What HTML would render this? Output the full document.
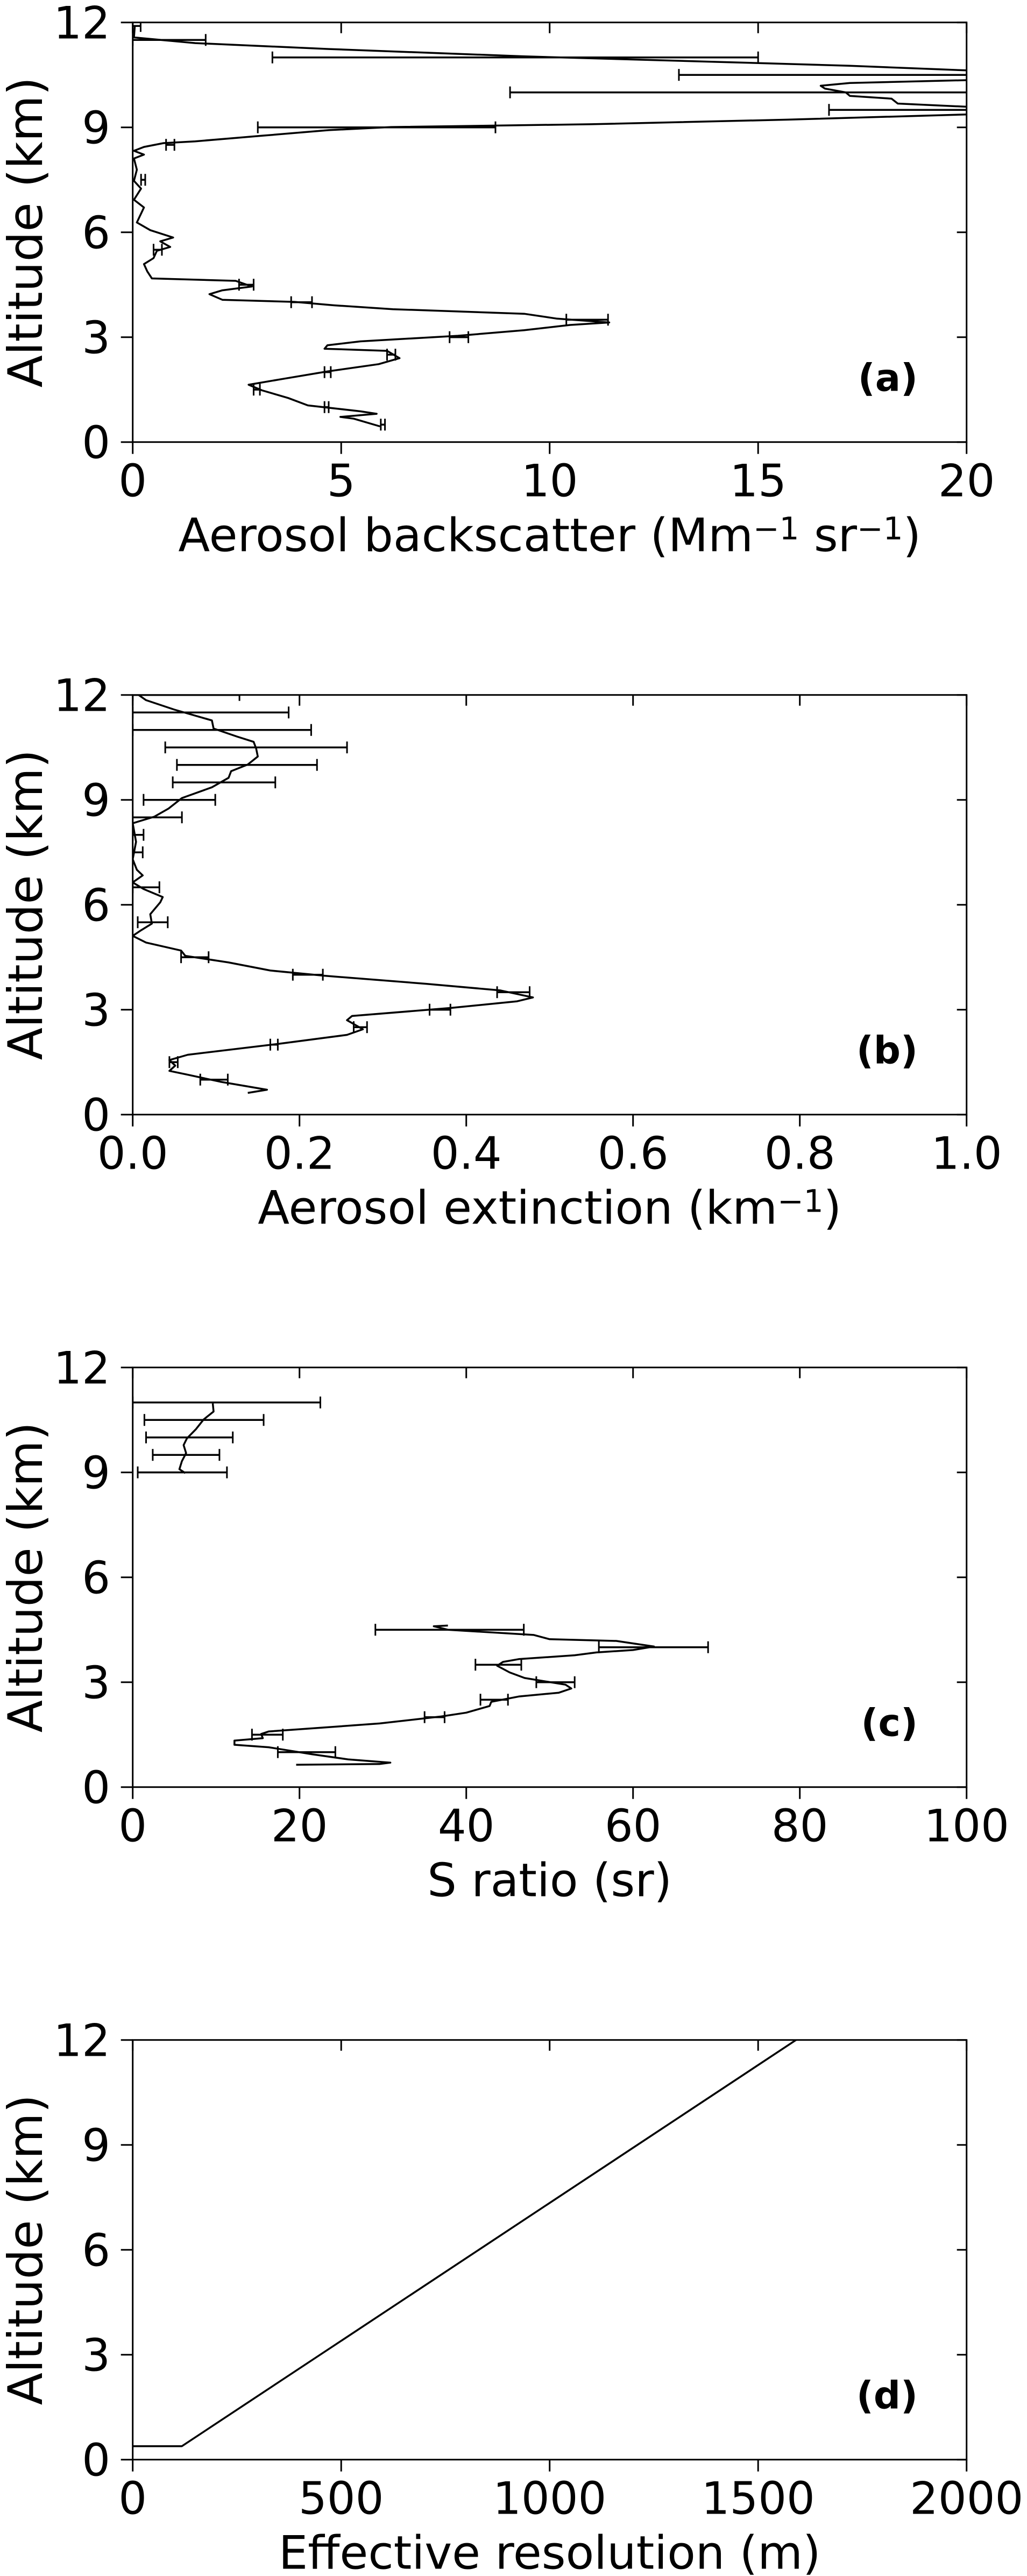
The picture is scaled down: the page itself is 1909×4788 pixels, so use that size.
<!DOCTYPE html>
<html>
<head>
<meta charset="utf-8">
<style>
  html, body { margin: 0; padding: 0; background: #fff; }
  svg { display: block; }
  text { font-family: "DejaVu Sans", "Liberation Sans", sans-serif; fill: #000; }
</style>
</head>
<body>
<svg id="fig" xmlns="http://www.w3.org/2000/svg" width="1909" height="4788" viewBox="0 0 1909 4788">
  <rect x="0" y="0" width="1909" height="4788" fill="#fff"></rect>
</svg>
<script>
// ---------- Data ----------
// Panel (a) aerosol backscatter (Mm-1 sr-1) vs altitude (km)
const backscatterValues = [0.05,0.03,1.5,4.7,9.4,14.1,17.2,20,22,22,20,17.2,16.5,16.6,17.1,17.2,18.2,18.35,20,22,22,20,15.7,11,6.2,4.7,3.1,1.5,0.74,0.27,0.03,0.27,0.03,0.1,0.03,0.2,0.03,0.27,0.1,0.42,0.97,0.66,0.9,0.58,0.5,0.27,0.35,0.46,2.47,2.86,2.15,1.84,2.15,3.88,4.83,6.24,9.39,10.18,11.43,10.49,9.39,7.8,5.46,4.67,4.6,6.1,6.4,5.9,4.67,3.57,2.78,3.1,3.73,4.2,5.46,5.85,4.98,5.3,5.93];
const backscatterAlt = [11.9,11.57,11.41,11.24,11.03,10.87,10.76,10.63,10.55,10.43,10.35,10.27,10.19,10.11,10.0,9.9,9.82,9.68,9.59,9.52,9.44,9.37,9.22,9.09,9.01,8.92,8.76,8.6,8.55,8.44,8.33,8.22,8.11,7.79,7.47,7.25,6.93,6.71,6.28,6.06,5.85,5.74,5.58,5.47,5.26,5.09,4.88,4.68,4.61,4.45,4.34,4.23,4.07,4.01,3.91,3.8,3.67,3.53,3.42,3.35,3.2,3.04,2.88,2.77,2.67,2.61,2.4,2.23,2.02,1.8,1.64,1.48,1.26,1.05,0.88,0.81,0.72,0.67,0.45];
const backscatterErrAlt = [11.9,11.5,11.0,10.5,10.0,9.5,9.0,8.5,7.5,5.5,4.5,4.0,3.5,3.0,2.5,2.0,1.5,1.0,0.5];
const backscatterErrLo  = [0,0,3.35,13.1,9.05,16.7,3.0,0.8,0.2,0.5,2.55,3.8,10.4,7.6,6.1,4.6,2.9,4.6,5.95];
const backscatterErrHi  = [0.19,1.75,15.0,25,25,25,8.7,1.0,0.3,0.7,2.9,4.3,11.4,8.05,6.3,4.75,3.05,4.7,6.05];

// Panel (b) aerosol extinction (km-1)
const extinctionValues = [0.007,0.016,0.05,0.095,0.097,0.125,0.145,0.148,0.15,0.138,0.118,0.115,0.095,0.059,0.043,0.026,0,0.004,0,0.005,0.012,0,0.013,0.036,0.033,0.021,0.023,0.01,0,0.016,0.058,0.063,0.115,0.165,0.23,0.352,0.441,0.48,0.461,0.382,0.263,0.257,0.276,0.257,0.174,0.066,0.044,0.051,0.044,0.066,0.105,0.161,0.138];
const extinctionAlt = [12,11.85,11.58,11.27,11.04,10.81,10.66,10.47,10.24,10.01,9.82,9.63,9.36,9.05,8.75,8.52,8.33,7.8,7.3,7.0,6.84,6.64,6.45,6.22,6.07,5.73,5.46,5.27,5.11,4.92,4.69,4.54,4.35,4.12,3.97,3.74,3.55,3.35,3.24,3.05,2.82,2.7,2.44,2.28,2.02,1.71,1.56,1.4,1.25,1.14,0.94,0.71,0.62];
const extinctionErrAlt = [12,11.5,11.0,10.5,10.0,9.5,9.0,8.5,8.0,7.5,6.5,5.5,4.5,4.0,3.5,3.0,2.5,2.0,1.5,1.0];
const extinctionErrLo  = [0,0,0,0.039,0.053,0.048,0.013,0,0,0,0,0.006,0.058,0.192,0.437,0.356,0.265,0.165,0.044,0.081];
const extinctionErrHi  = [0.128,0.187,0.214,0.257,0.221,0.171,0.099,0.059,0.013,0.012,0.032,0.042,0.091,0.228,0.476,0.381,0.281,0.174,0.054,0.114];

// Panel (c) S ratio (sr): upper segment and lower segment
const sRatioUpperValues = [9.6,9.7,8.5,7.6,6.5,6.1,6.4,5.9,5.6,6.3];
const sRatioUpperAlt = [10.97,10.74,10.51,10.24,9.97,9.78,9.55,9.32,9.09,8.98];
const sRatioLowerValues = [37.8,36.1,37.8,48.1,50,58,62.5,60,55.6,53,46.3,44.4,43.7,45.2,47,51.9,52.6,51.1,46.3,43,42.8,40,37,29.6,23.3,16.3,15.4,15.6,12.2,12.2,16.3,21.5,25.9,30.9,29.6,19.6];
const sRatioLowerAlt = [4.62,4.6,4.5,4.35,4.23,4.18,4.02,3.92,3.85,3.77,3.66,3.58,3.47,3.28,3.12,2.93,2.82,2.7,2.59,2.44,2.32,2.13,2.02,1.82,1.71,1.59,1.52,1.4,1.33,1.21,1.14,0.94,0.79,0.7,0.66,0.64];
const sRatioErrAlt = [11.0,10.5,10.0,9.5,9.0,4.5,4.0,3.5,3.0,2.5,2.0,1.5,1.0];
const sRatioErrLo  = [0,1.4,1.6,2.4,0.6,29.1,55.9,41.1,48.4,41.7,35,14.3,17.4];
const sRatioErrHi  = [22.5,15.7,12.0,10.4,11.3,46.9,69,46.6,53,45,37.4,18,24.3];

// Panel (d) effective resolution (m)
const resolutionValues = [0,118,1591];
const resolutionAlt = [0.385,0.385,12];

// Axis ticks
const altTicks = [0,3,6,9,12];
const backscatterTicks = [0,5,10,15,20];
const extinctionTicks = [0,0.2,0.4,0.6,0.8,1.0];
const extinctionTickLabels = ["0.0","0.2","0.4","0.6","0.8","1.0"];
const sRatioTicks = [0,20,40,60,80,100];
const resolutionTicks = [0,500,1000,1500,2000];

// ---------- Drawing ----------
const NS = "http://www.w3.org/2000/svg";
const svg = document.getElementById('fig');
const AX_L = 246.7, AX_W = 1550, AX_H = 780, AX_T0 = 41.7, PANEL_STEP = 1250;

function mk(tag, attrs, parent) {
  const e = document.createElementNS(NS, tag);
  for (const k in attrs) e.setAttribute(k, attrs[k]);
  (parent || svg).appendChild(e);
  return e;
}

function drawPanel(idx, cfg) {
  const top = AX_T0 + idx * PANEL_STEP;
  const bottom = top + AX_H;
  const xScale = v => AX_L + (v - cfg.xmin) / (cfg.xmax - cfg.xmin) * AX_W;
  const yScale = a => bottom - a / 12 * AX_H;

  const g = mk('g', {});
  
  

  const clipId = 'clip' + idx;
  const cp = mk('clipPath', { id: clipId }, g);
  mk('rect', { x: AX_L, y: top, width: AX_W, height: AX_H }, cp);

  const plot = mk('g', { 'clip-path': 'url(#' + clipId + ')' }, g);
  
  

  // series
  cfg.series.forEach((s, si) => {
    const pts = s.values.map((v, i) => xScale(v).toFixed(1) + ',' + yScale(s.alt[i]).toFixed(1)).join(' ');
    const pl = mk('polyline', { points: pts, fill: 'none', stroke: '#000', 'stroke-width': 3.5, 'stroke-linejoin': 'round' }, plot);
    
    
  });

  // error bars
  if (cfg.err) {
    cfg.err.alt.forEach((a, i) => {
      const y = yScale(a), x1 = xScale(cfg.err.lo[i]), x2 = xScale(cfg.err.hi[i]);
      const eb = mk('g', {}, plot);
      
      
      mk('line', { x1: x1, y1: y, x2: x2, y2: y, stroke: '#000', 'stroke-width': 3.5 }, eb);
      mk('line', { x1: x1, y1: y - 11, x2: x1, y2: y + 11, stroke: '#000', 'stroke-width': 3 }, eb);
      mk('line', { x1: x2, y1: y - 11, x2: x2, y2: y + 11, stroke: '#000', 'stroke-width': 3 }, eb);
    });
  }

  // frame
  const fr = mk('rect', { x: AX_L, y: top, width: AX_W, height: AX_H, fill: 'none', stroke: '#000', 'stroke-width': 3 }, g);
  
  

  // y ticks
  altTicks.forEach(t => {
    const y = yScale(t);
    mk('line', { x1: AX_L - 22, y1: y, x2: AX_L, y2: y, stroke: '#000', 'stroke-width': 3 }, g);
    mk('line', { x1: AX_L + AX_W - 18, y1: y, x2: AX_L + AX_W, y2: y, stroke: '#000', 'stroke-width': 3 }, g);
    const tl = mk('text', { x: 205, y: y + 30, 'font-size': 83, 'text-anchor': 'end' }, g);
    tl.textContent = String(t);
    
    
  });

  // x ticks
  cfg.ticks.forEach((t, i) => {
    const x = xScale(t);
    mk('line', { x1: x, y1: bottom, x2: x, y2: bottom + 22, stroke: '#000', 'stroke-width': 3 }, g);
    mk('line', { x1: x, y1: top, x2: x, y2: top + 20, stroke: '#000', 'stroke-width': 3 }, g);
    const tl = mk('text', { x: x, y: bottom + 101, 'font-size': 83, 'text-anchor': 'middle' }, g);
    tl.textContent = cfg.tickLabels ? cfg.tickLabels[i] : String(t);
    
    
  });

  // y axis title
  const cy = top + AX_H / 2;
  const yt = mk('text', { x: 0, y: 0, 'font-size': 88, 'text-anchor': 'middle', transform: 'translate(78,' + cy + ') rotate(-90)' }, g);
  yt.textContent = 'Altitude (km)';
  
  

  // x axis title
  const xt = mk('text', { x: AX_L + AX_W / 2, y: bottom + 203, 'font-size': 86, 'text-anchor': 'middle' }, g);
  
  
  cfg.xlabel.forEach(part => {
    const ts = mk('tspan', part.sup ? { 'baseline-shift': '38%', 'font-size': 58 } : {}, xt);
    ts.textContent = part.t;
  });

  // panel letter
  const pl = mk('text', { x: 1706, y: top + 685, 'font-size': 70, 'font-weight': 'bold', 'text-anchor': 'end' }, g);
  pl.textContent = '(' + cfg.letter + ')';
  
  
}

drawPanel(0, {
  letter: 'a', xmin: 0, xmax: 20, ticks: backscatterTicks,
  series: [{ values: backscatterValues, alt: backscatterAlt }],
  err: { alt: backscatterErrAlt, lo: backscatterErrLo, hi: backscatterErrHi },
  xlabel: [{ t: 'Aerosol backscatter (Mm' }, { t: '\u22121', sup: true }, { t: ' sr' }, { t: '\u22121', sup: true }, { t: ')' }]
});
drawPanel(1, {
  letter: 'b', xmin: 0, xmax: 1, ticks: extinctionTicks, tickLabels: extinctionTickLabels,
  series: [{ values: extinctionValues, alt: extinctionAlt }],
  err: { alt: extinctionErrAlt, lo: extinctionErrLo, hi: extinctionErrHi },
  xlabel: [{ t: 'Aerosol extinction (km' }, { t: '\u22121', sup: true }, { t: ')' }]
});
drawPanel(2, {
  letter: 'c', xmin: 0, xmax: 100, ticks: sRatioTicks,
  series: [{ values: sRatioUpperValues, alt: sRatioUpperAlt }, { values: sRatioLowerValues, alt: sRatioLowerAlt }],
  err: { alt: sRatioErrAlt, lo: sRatioErrLo, hi: sRatioErrHi },
  xlabel: [{ t: 'S ratio (sr)' }]
});
drawPanel(3, {
  letter: 'd', xmin: 0, xmax: 2000, ticks: resolutionTicks,
  series: [{ values: resolutionValues, alt: resolutionAlt }],
  err: null,
  xlabel: [{ t: 'Effective resolution (m)' }]
});
</script>
</body>
</html>
